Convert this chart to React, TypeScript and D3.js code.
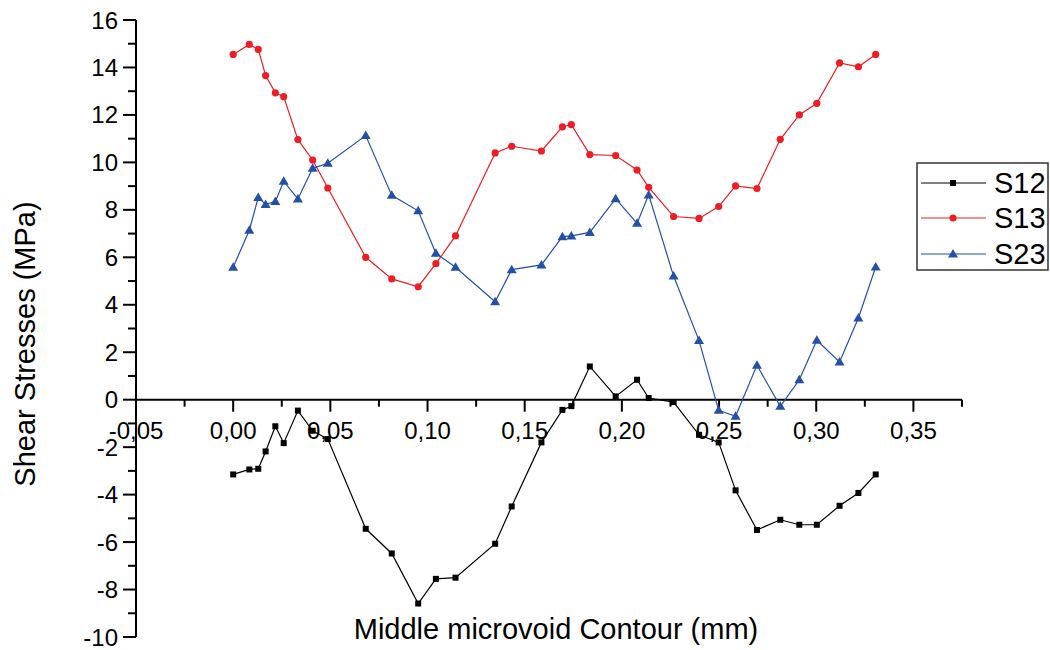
import React from "react";
import { scaleLinear, line, range } from "d3";

// points along the contour (mm) - same for all three series
const contour = [
  0, 0.0083, 0.0129, 0.0167, 0.0217, 0.026, 0.0333, 0.0409, 0.0487, 0.0682,
  0.0816, 0.0952, 0.1043, 0.1144, 0.1348, 0.1433, 0.1586, 0.1694, 0.174,
  0.1835, 0.1968, 0.2078, 0.2138, 0.2266, 0.2397, 0.2498, 0.2585, 0.2695,
  0.2815, 0.2913, 0.3003, 0.312, 0.3217, 0.3306,
];

const s12 = [
  -3.15, -2.94, -2.91, -2.18, -1.12, -1.83, -0.46, -1.31, -1.66, -5.44,
  -6.48, -8.59, -7.55, -7.5, -6.07, -4.5, -1.8, -0.43, -0.27,
  1.4, 0.14, 0.84, 0.07, -0.1, -1.48, -1.8, -3.82, -5.49,
  -5.06, -5.27, -5.27, -4.47, -3.93, -3.15,
];

const s13 = [
  14.55, 14.97, 14.76, 13.66, 12.93, 12.77, 10.96, 10.1, 8.92, 6.0,
  5.09, 4.76, 5.73, 6.9, 10.4, 10.68, 10.48, 11.5, 11.59,
  10.33, 10.29, 9.68, 8.95, 7.72, 7.64, 8.14, 9.01, 8.9,
  10.97, 12.0, 12.49, 14.19, 14.03, 14.55,
];

const s23 = [
  5.58, 7.14, 8.52, 8.23, 8.35, 9.2, 8.46, 9.75, 9.96, 11.13,
  8.61, 7.96, 6.17, 5.58, 4.13, 5.48, 5.68, 6.87, 6.9,
  7.05, 8.47, 7.43, 8.63, 5.21, 2.49, -0.45, -0.7, 1.45,
  -0.28, 0.84, 2.5, 1.59, 3.44, 5.59,
];

const seriesNames = ["S12", "S13", "S23"];
const seriesColors = ["#000000", "#ee1c25", "#2450a8"];
const seriesMarkers = ["square", "circle", "triangle"];

const xMajorTicks = [-0.05, 0, 0.05, 0.1, 0.15, 0.2, 0.25, 0.3, 0.35];
const yMajorTicks = [-10, -8, -6, -4, -2, 0, 2, 4, 6, 8, 10, 12, 14, 16];

const FONT = "'Liberation Sans', Arial, Helvetica, sans-serif";

function fmtX(v: number) {
  return v.toFixed(2).replace(".", ",");
}

function Marker({ kind, x, y, color }) {
  if (kind === "square") {
    return <rect x={x - 3} y={y - 3} width={6} height={6} fill={color} />;
  }
  if (kind === "circle") {
    return <circle cx={x} cy={y} r={3.6} fill={color} />;
  }
  return (
    <path
      d={`M${x},${y - 5} L${x + 5},${y + 3.5} L${x - 5},${y + 3.5} Z`}
      fill={color}
    />
  );
}

export default function App() {
  const width = 1050;
  const height = 650;

  const x = scaleLinear().domain([-0.05, 0.375]).range([136, 962]);
  const y = scaleLinear().domain([-10, 16]).range([637, 20]);
  const y0 = y(0);

  const xMinor = range(0, 18).map((i) => -0.05 + i * 0.025);
  const yMinor = range(-10, 17);

  const data = [s12, s13, s23];
  const lineGen = line<number>()
    .x((_, i) => x(contour[i]))
    .y((d) => y(d));

  const legendX = 917;
  const legendY = 163;
  const rowY = [183, 218, 254];

  return (
    <svg
      width={width}
      height={height}
      style={{ position: "absolute", left: 0, top: 0, background: "white" }}
      fontFamily={FONT}
    >
      {/* y axis */}
      <line x1={136} x2={136} y1={y(16)} y2={y(-10)} stroke="#000" strokeWidth={2} />
      {yMinor.map((v) => (
        <line
          key={"ym" + v}
          x1={136}
          x2={v % 2 === 0 ? 123 : 128}
          y1={y(v)}
          y2={y(v)}
          stroke="#000"
          strokeWidth={2}
        />
      ))}
      {yMajorTicks.map((v) => (
        <text
          key={"yl" + v}
          x={118}
          y={y(v)}
          textAnchor="end"
          dominantBaseline="central"
          fontSize={24}
        >
          {String(v)}
        </text>
      ))}

      {/* x axis at y = 0 */}
      <line x1={136} x2={962} y1={y0} y2={y0} stroke="#000" strokeWidth={2} />
      {xMinor.map((v, i) => (
        <line
          key={"xm" + i}
          x1={x(v)}
          x2={x(v)}
          y1={y0}
          y2={y0 + (i % 2 === 0 ? 12 : 7)}
          stroke="#000"
          strokeWidth={2}
        />
      ))}
      {xMajorTicks.map((v) => (
        <text
          key={"xl" + v}
          x={x(v)}
          y={439}
          textAnchor="middle"
          fontSize={24}
        >
          {fmtX(v)}
        </text>
      ))}

      {/* axis titles */}
      <text x={556} y={639} textAnchor="middle" fontSize={29}>
        Middle microvoid Contour (mm)
      </text>
      <text
        transform="translate(35, 344) rotate(-90)"
        textAnchor="middle"
        fontSize={29}
      >
        Shear Stresses (MPa)
      </text>

      {/* series */}
      {data.map((vals, si) => (
        <g key={seriesNames[si]}>
          <path
            d={lineGen(vals) || ""}
            fill="none"
            stroke={seriesColors[si]}
            strokeWidth={1.2}
          />
          {vals.map((v, i) => (
            <Marker
              key={i}
              kind={seriesMarkers[si]}
              x={x(contour[i])}
              y={y(v)}
              color={seriesColors[si]}
            />
          ))}
        </g>
      ))}

      {/* legend */}
      <rect
        x={legendX}
        y={legendY}
        width={131}
        height={107}
        fill="white"
        stroke="#333"
        strokeWidth={1.5}
      />
      {seriesNames.map((name, i) => (
        <g key={"lg" + name}>
          <line
            x1={921}
            x2={986}
            y1={rowY[i]}
            y2={rowY[i]}
            stroke={seriesColors[i]}
            strokeWidth={1.2}
          />
          <Marker kind={seriesMarkers[i]} x={953} y={rowY[i]} color={seriesColors[i]} />
          <text x={994} y={rowY[i]} dominantBaseline="central" fontSize={29}>
            {name}
          </text>
        </g>
      ))}
    </svg>
  );
}
